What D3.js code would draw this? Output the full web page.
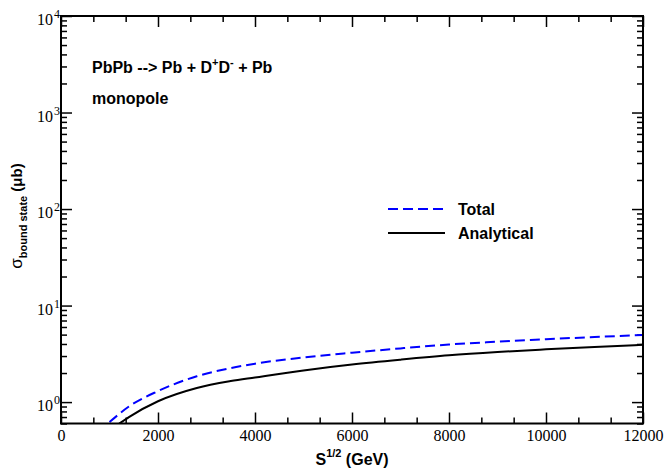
<!DOCTYPE html>
<html lang="en">
<head>
<meta charset="utf-8">
<title>Bound state cross section</title>
<script src="https://d3js.org/d3.v7.min.js"></script>
<style>
  body { margin: 0; background: #fff; }
  .lab { font-family: "Liberation Sans", Arial, sans-serif; font-weight: bold; }
  .num { font-family: "Liberation Serif", "Times New Roman", serif; }
</style>
</head>
<body>
<script>
// values
var energy = [1000, 1400, 2000, 2800, 3500, 4000, 5000, 6000, 7000, 8000, 9000, 10000, 11000, 12000];
var total  = [0.62, 0.90, 1.30, 1.85, 2.25, 2.50, 2.90, 3.25, 3.60, 3.95, 4.22, 4.48, 4.72, 4.95];
var energyA = [1200, 1400, 2000, 2800, 3500, 4000, 5000, 6000, 7000, 8000, 9000, 10000, 11000, 12000];
var analytical = [0.60, 0.70, 1.02, 1.40, 1.65, 1.80, 2.13, 2.45, 2.75, 3.05, 3.30, 3.52, 3.73, 3.92];
var xMajor = [0, 2000, 4000, 6000, 8000, 10000, 12000];
var yMajor = [1, 10, 100, 1000, 10000];
var yExp = ["0", "1", "2", "3", "4"];

var W = 666, H = 468;
var mLeft = 61, mRight = 643, mTop = 16, mBottom = 423.5;

var svg = d3.select("body").append("svg")
    .attr("width", W).attr("height", H);

var x = d3.scaleLinear().domain([0, 12000]).range([mLeft, mRight]);
var y = d3.scaleLog().domain([0.6, 10000]).range([mBottom, mTop]);

var xMinor = d3.range(0, 12001, 2000 / 3).filter(function(v) {
    return Math.abs(v / 2000 - Math.round(v / 2000)) > 1e-6;
});
var yMinor = [];
[0.1, 1, 10, 100, 1000].forEach(function(d) {
    for (var k = 2; k <= 9; k++) {
        var v = d * k;
        if (v >= 0.6 && v <= 10000) yMinor.push(v);
    }
});

function styleAxis(g) {
    g.select(".domain").remove();
    g.selectAll(".tick line").attr("stroke", "#000").attr("stroke-width", 1.5);
}

// x axes (bottom + top), ticks pointing inward
svg.append("g").attr("transform", "translate(0," + mBottom + ")")
    .call(d3.axisBottom(x).tickValues(xMajor).tickSize(-11).tickPadding(6).tickFormat(d3.format("d")))
    .call(styleAxis)
    .attr("font-family", "Liberation Serif, serif").attr("font-size", 16)
    .selectAll("text").attr("fill", "#000");
svg.append("g").attr("transform", "translate(0," + mBottom + ")")
    .call(d3.axisBottom(x).tickValues(xMinor).tickSize(-6).tickFormat(""))
    .call(styleAxis);
svg.append("g").attr("transform", "translate(0," + mTop + ")")
    .call(d3.axisTop(x).tickValues(xMajor).tickSize(-11).tickFormat(""))
    .call(styleAxis);
svg.append("g").attr("transform", "translate(0," + mTop + ")")
    .call(d3.axisTop(x).tickValues(xMinor).tickSize(-6).tickFormat(""))
    .call(styleAxis);

// y axes (left + right)
svg.append("g").attr("transform", "translate(" + mLeft + ",0)")
    .call(d3.axisLeft(y).tickValues(yMajor).tickSize(-11).tickFormat(""))
    .call(styleAxis);
svg.append("g").attr("transform", "translate(" + mLeft + ",0)")
    .call(d3.axisLeft(y).tickValues(yMinor).tickSize(-6).tickFormat(""))
    .call(styleAxis);
svg.append("g").attr("transform", "translate(" + mRight + ",0)")
    .call(d3.axisRight(y).tickValues(yMajor).tickSize(-11).tickFormat(""))
    .call(styleAxis);
svg.append("g").attr("transform", "translate(" + mRight + ",0)")
    .call(d3.axisRight(y).tickValues(yMinor).tickSize(-6).tickFormat(""))
    .call(styleAxis);

// y tick labels 10^n
yMajor.forEach(function(v, i) {
    svg.append("text").attr("class", "num")
        .attr("x", 53).attr("y", y(v) + 9)
        .attr("text-anchor", "end").attr("font-size", 16)
        .text("10");
    svg.append("text").attr("class", "num")
        .attr("x", 54).attr("y", y(v) + 2)
        .attr("font-size", 12)
        .text(yExp[i]);
});

// curves
svg.append("clipPath").attr("id", "plot")
    .append("rect").attr("x", mLeft).attr("y", mTop)
    .attr("width", mRight - mLeft).attr("height", mBottom - mTop);

var line = d3.line()
    .x(function(d) { return x(d[0]); })
    .y(function(d) { return y(d[1]); })
    .curve(d3.curveMonotoneX);

svg.append("path")
    .datum(d3.zip(energyA, analytical))
    .attr("clip-path", "url(#plot)")
    .attr("fill", "none").attr("stroke", "#000").attr("stroke-width", 2)
    .attr("d", line);

svg.append("path")
    .datum(d3.zip(energy, total))
    .attr("clip-path", "url(#plot)")
    .attr("fill", "none").attr("stroke", "#0000ff").attr("stroke-width", 2)
    .attr("stroke-dasharray", "10,5")
    .attr("d", line);

// frame
svg.append("rect")
    .attr("x", mLeft).attr("y", mTop)
    .attr("width", mRight - mLeft).attr("height", mBottom - mTop)
    .attr("fill", "none").attr("stroke", "#000").attr("stroke-width", 2);

// labels in the plot
var t1 = svg.append("text").attr("class", "lab").attr("x", 92).attr("y", 73).attr("font-size", 16);
t1.append("tspan").text("PbPb --> Pb + D");
t1.append("tspan").attr("font-size", 11).attr("dy", -7).text("+");
t1.append("tspan").attr("dy", 7).text("D");
t1.append("tspan").attr("font-size", 11).attr("dy", -7).text("-");
t1.append("tspan").attr("dy", 7).text(" + Pb");

svg.append("text").attr("class", "lab").attr("x", 92).attr("y", 104)
    .attr("font-size", 16).text("monopole");

// legend
var legend = [["Total", "#0000ff", "10,5"], ["Analytical", "#000", null]];
legend.forEach(function(d, i) {
    var ly = 209 + i * 24;
    svg.append("line")
        .attr("x1", 388).attr("x2", 445).attr("y1", ly).attr("y2", ly)
        .attr("stroke", d[1]).attr("stroke-width", 2)
        .attr("stroke-dasharray", d[2]);
    svg.append("text").attr("class", "lab")
        .attr("x", 458).attr("y", ly + 6).attr("font-size", 16).text(d[0]);
});

// axis titles
var xt = svg.append("text").attr("class", "lab")
    .attr("x", (mLeft + mRight) / 2).attr("y", 465)
    .attr("text-anchor", "middle").attr("font-size", 16);
xt.append("tspan").text("S");
xt.append("tspan").attr("font-size", 11).attr("dy", -8).text("1/2");
xt.append("tspan").attr("dy", 8).text(" (GeV)");

var yt = svg.append("text").attr("class", "lab")
    .attr("transform", "translate(22,216) rotate(-90)")
    .attr("text-anchor", "middle").attr("font-size", 15);
yt.append("tspan").attr("font-weight", "normal").attr("font-size", 17).text("σ");
yt.append("tspan").attr("font-size", 11).attr("dy", 5).text("bound state");
yt.append("tspan").attr("dy", -5).text(" (μb)");
</script>
</body>
</html>
